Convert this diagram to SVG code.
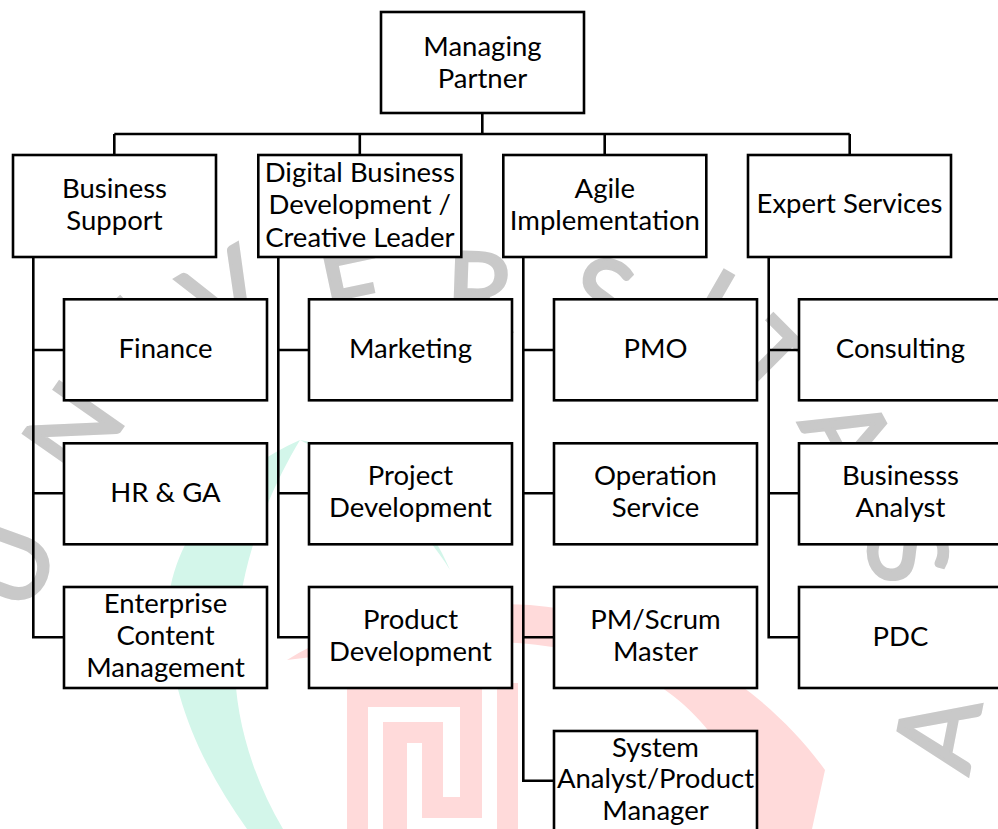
<svg xmlns="http://www.w3.org/2000/svg" width="998" height="829" viewBox="0 0 998 829">
<style>
.box{fill:#ffffff;stroke:#000000;stroke-width:2.6}
.ln{fill:none;stroke:#000000;stroke-width:2.6}
.t{font-family:Lato,"Liberation Sans",sans-serif;font-size:27.5px;fill:#000000;text-anchor:middle}
.wm{font-family:Lato,"Liberation Sans",sans-serif;font-size:108px;fill:#c9c9c9;stroke:#c9c9c9;stroke-width:3;text-anchor:middle}
.red{fill:#ffdada}
</style>
<rect width="998" height="829" fill="#ffffff"/>
<g id="watermark">
<path d="M300,440 C230,470 165,540 168,620 C170,700 205,770 247,829 L283,829 C248,770 230,700 236,640 C240,560 270,490 300,440 Z" fill="#d3f6ea"/>
<path d="M300,440 C360,450 420,500 450,570 C420,520 360,470 300,440 Z" fill="#d3f6ea"/>
<path d="M287,660 C360,615 450,600 530,605 C650,615 760,680 825,770 L812,829 L752,829 C740,760 700,710 650,680 C590,645 520,640 450,642 C390,645 330,655 287,660 Z" class="red"/>
<rect x="347" y="688" width="21" height="141" class="red"/>
<rect x="347" y="688" width="135" height="19" class="red"/>
<rect x="460" y="688" width="22" height="130" class="red"/>
<rect x="422" y="797" width="60" height="21" class="red"/>
<rect x="383" y="722" width="24" height="107" class="red"/>
<rect x="383" y="722" width="60" height="21" class="red"/>
<rect x="422" y="722" width="21" height="75" class="red"/>
<rect x="497" y="683" width="21" height="146" class="red"/>
<text class="wm" transform="translate(45,578) rotate(-70)">U</text>
<text class="wm" transform="translate(105,452) rotate(-55)">N</text>
<text class="wm" transform="translate(168,358) rotate(-42)">I</text>
<text class="wm" transform="translate(245,328) rotate(-30)">V</text>
<text class="wm" transform="translate(362,330) rotate(-12)">E</text>
<text class="wm" transform="translate(478,330) rotate(2)">R</text>
<text class="wm" transform="translate(590,335) rotate(17)">S</text>
<text class="wm" transform="translate(690,340) rotate(30)">I</text>
<text class="wm" transform="translate(740,390) rotate(45)">T</text>
<text class="wm" transform="translate(815,455) rotate(62)">A</text>
<text class="wm" transform="translate(870,560) rotate(78)">S</text>
<text class="wm" transform="translate(975,740) rotate(-79)">A</text>
</g>
<g id="connectors">
<path class="ln" d="M482.3,113 V134 M114.3,134 H849.7 M114.3,134 V155 M359.8,134 V155 M604.7,134 V155 M849.7,134 V155"/>
<path class="ln" d="M33.3,257 V637.3 H64 M33.3,350 H64 M33.3,493.3 H64"/>
<path class="ln" d="M278.3,257 V637.3 H309 M278.3,350 H309 M278.3,493.3 H309"/>
<path class="ln" d="M523.3,257 V780.7 H554 M523.3,350 H554 M523.3,493.3 H554 M523.3,637.3 H554"/>
<path class="ln" d="M768.7,257 V637.3 H799 M768.7,350 H799 M768.7,493.3 H799"/>
</g>
<g id="managing-partner">
<rect class="box" x="381" y="12" width="203" height="101"/>
<text class="t" x="482.5" y="55.7">Managing</text>
<text class="t" x="482.5" y="87.7">Partner</text>
</g>
<g id="business-support">
<rect class="box" x="13" y="155" width="203" height="102"/>
<text class="t" x="114.5" y="198">Business</text>
<text class="t" x="114.5" y="230">Support</text>
</g>
<g id="digital-business">
<rect class="box" x="258.3" y="155" width="203" height="102"/>
<text class="t" x="359.8" y="181.7">Digital Business</text>
<text class="t" x="359.8" y="214.3">Development /</text>
<text class="t" x="359.8" y="246.7">Creative Leader</text>
</g>
<g id="agile-implementation">
<rect class="box" x="503.3" y="155" width="203" height="102"/>
<text class="t" x="604.8" y="198">Agile</text>
<text class="t" x="604.8" y="230">Implementation</text>
</g>
<g id="expert-services">
<rect class="box" x="748" y="155" width="203" height="102"/>
<text class="t" x="849.5" y="213.3">Expert Services</text>
</g>
<g id="finance">
<rect class="box" x="64" y="299.3" width="203" height="101"/>
<text class="t" x="165.5" y="358.3">Finance</text>
</g>
<g id="hr-ga">
<rect class="box" x="64" y="443.3" width="203" height="101"/>
<text class="t" x="165.5" y="502">HR &amp; GA</text>
</g>
<g id="ecm">
<rect class="box" x="64" y="587" width="203" height="101"/>
<text class="t" x="165.5" y="613.3">Enterprise</text>
<text class="t" x="165.5" y="645">Content</text>
<text class="t" x="165.5" y="676.7">Management</text>
</g>
<g id="marketing">
<rect class="box" x="309" y="299.3" width="203" height="101"/>
<text class="t" x="410.5" y="358.3">Marketing</text>
</g>
<g id="project-development">
<rect class="box" x="309" y="443.3" width="203" height="101"/>
<text class="t" x="410.5" y="485">Project</text>
<text class="t" x="410.5" y="517.3">Development</text>
</g>
<g id="product-development">
<rect class="box" x="309" y="587" width="203" height="101"/>
<text class="t" x="410.5" y="629.3">Product</text>
<text class="t" x="410.5" y="661">Development</text>
</g>
<g id="pmo">
<rect class="box" x="554" y="299.3" width="203" height="101"/>
<text class="t" x="655.5" y="358.3">PMO</text>
</g>
<g id="operation-service">
<rect class="box" x="554" y="443.3" width="203" height="101"/>
<text class="t" x="655.5" y="485">Operation</text>
<text class="t" x="655.5" y="517.3">Service</text>
</g>
<g id="pm-scrum-master">
<rect class="box" x="554" y="587" width="203" height="101"/>
<text class="t" x="655.5" y="629.3">PM/Scrum</text>
<text class="t" x="655.5" y="661">Master</text>
</g>
<g id="system-analyst">
<rect class="box" x="554" y="731" width="203" height="110"/>
<text class="t" x="655.5" y="756.7">System</text>
<text class="t" x="655.5" y="788.3">Analyst/Product</text>
<text class="t" x="655.5" y="820">Manager</text>
</g>
<g id="consulting">
<rect class="box" x="799" y="299.3" width="203" height="101"/>
<text class="t" x="900.5" y="358.3">Consulting</text>
</g>
<g id="business-analyst">
<rect class="box" x="799" y="443.3" width="203" height="101"/>
<text class="t" x="900.5" y="485">Businesss</text>
<text class="t" x="900.5" y="517.3">Analyst</text>
</g>
<g id="pdc">
<rect class="box" x="799" y="587" width="203" height="101"/>
<text class="t" x="900.5" y="645.5">PDC</text>
</g>
</svg>
